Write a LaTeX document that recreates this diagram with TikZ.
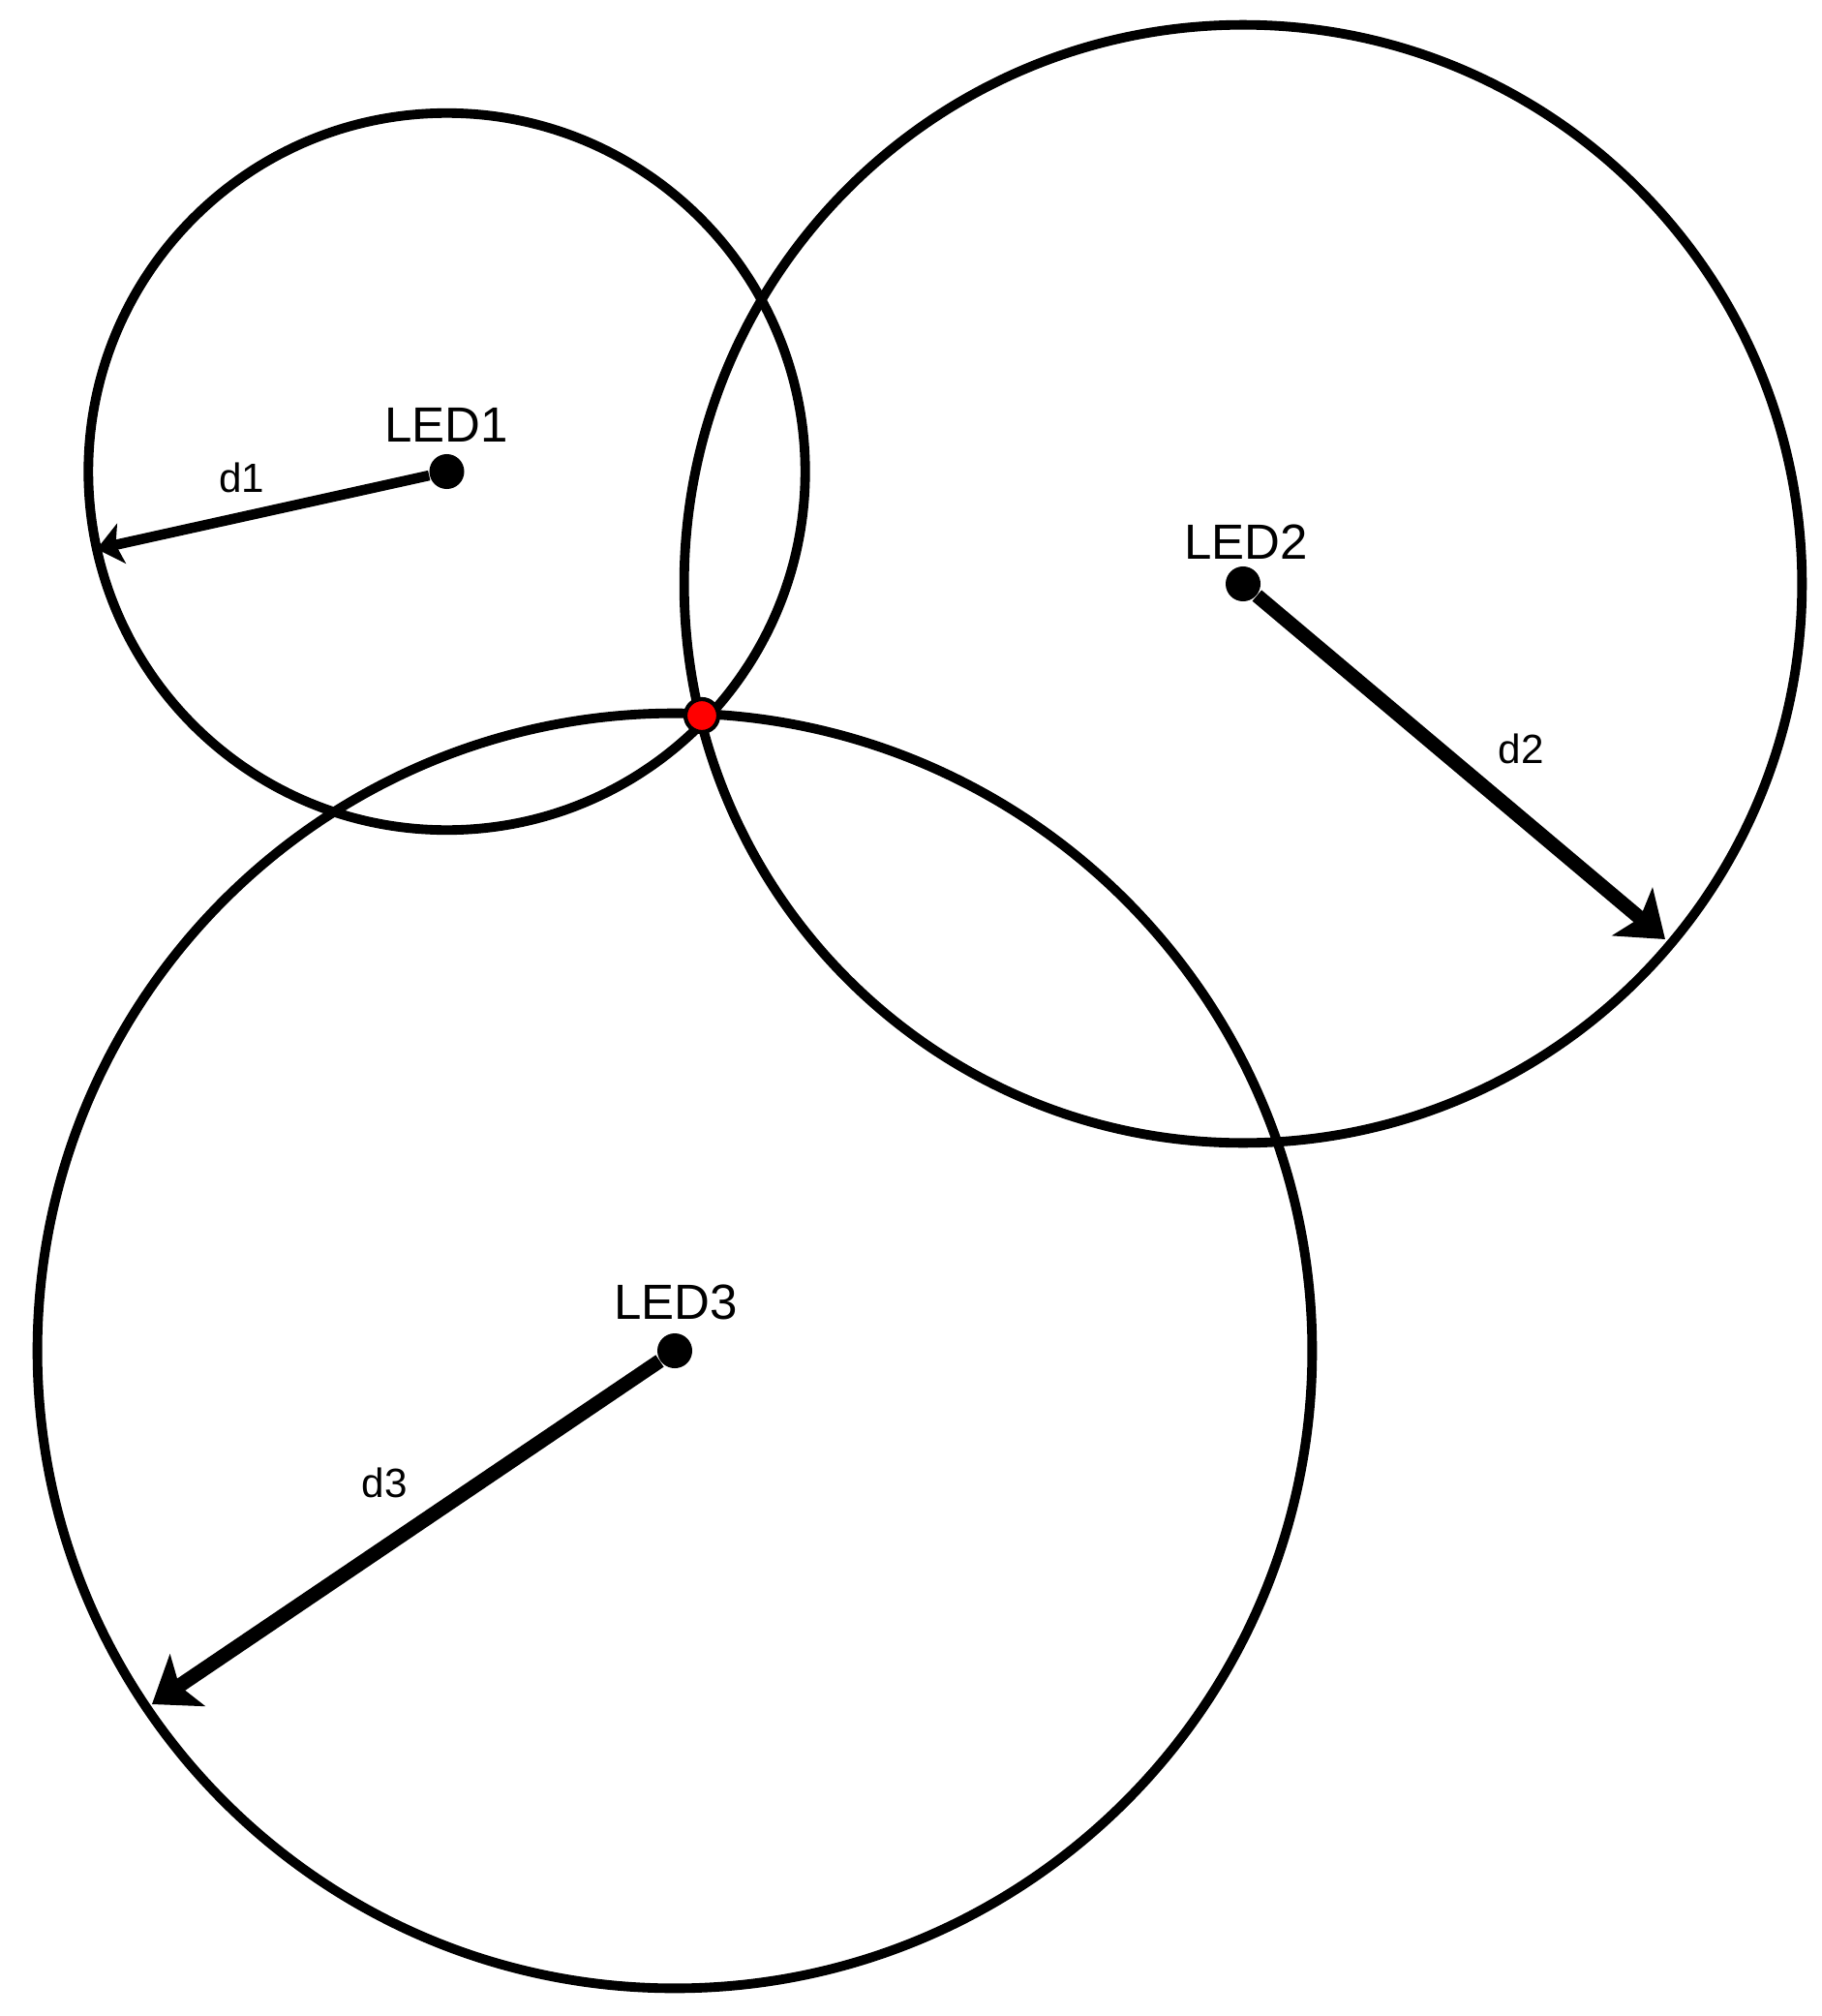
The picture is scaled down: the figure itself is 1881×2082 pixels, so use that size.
\documentclass[tikz,border=0pt]{standalone}
\usepackage{fontspec}
\setmainfont{Liberation Sans}
\usetikzlibrary{arrows.meta}
\begin{document}
\begin{tikzpicture}[x=0.01cm,y=-0.01cm,
  ring/.style={draw=black,line width=2.8pt},
  ctr/.style={circle,fill=black,inner sep=0pt,minimum size=0.36cm},
  ledlbl/.style={font=\fontsize{14.5}{16}\selectfont,anchor=base,inner sep=0pt},
  dlbl/.style={font=\fontsize{12}{14}\selectfont,anchor=base,inner sep=0pt},
  bigarrow/.style={line width=4.2pt,-{Stealth[length=0.44cm,width=0.64cm,inset=0.1cm]}},
  smallarrow/.style={line width=3pt,-{Stealth[length=0.26cm,width=0.42cm,inset=0.06cm]}},
  hit/.style={circle,fill=red,draw=black,line width=1.2pt,inner sep=0pt,minimum size=0.34cm}
]
\useasboundingbox (0,0) rectangle (1881,2082);
% LED centres
\node[ctr] (l1) at (461.5,487) {};
\node[ctr] (l2) at (1284,603) {};
\node[ctr] (l3) at (697,1395) {};
% circles
\draw[ring] (l1.center) circle[radius=3.70cm];
\draw[ring] (l2.center) circle[radius=5.77cm];
\draw[ring] (l3.center) circle[radius=6.58cm];
% arrow ends on the circles
\coordinate (e1) at (100,567);
\coordinate (e2) at (1720,970);
\coordinate (e3) at (157,1760);
\draw[smallarrow] (l1) -- (e1);
\draw[bigarrow] (l2) -- (e2);
\draw[bigarrow] (l3) -- (e3);
% labels
\node[ledlbl] (t1) at (461,456) {LED1};
\node[ledlbl] (t2) at (1287,577) {LED2};
\node[ledlbl] (t3) at (698,1362) {LED3};
\node[dlbl] (s1) at (250,508) {d1};
\node[dlbl] (s2) at (1571,788) {d2};
\node[dlbl] (s3) at (397,1546) {d3};
% intersection point
\node[hit] (p) at (725,739) {};
\end{tikzpicture}
\end{document}
